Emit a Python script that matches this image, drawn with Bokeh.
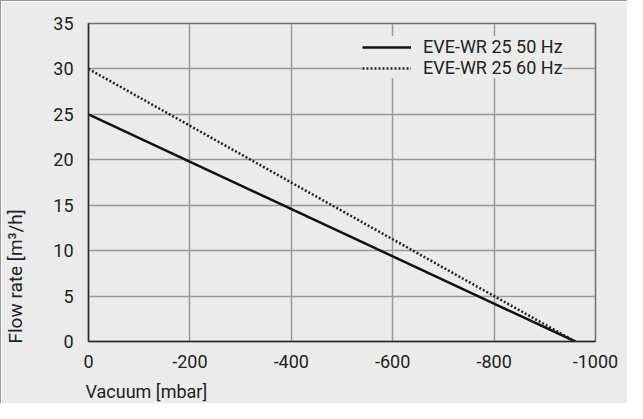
from bokeh.plotting import figure
from bokeh.models import Range1d, FixedTicker, Legend, LegendItem, Title, PrintfTickFormatter
from bokeh.embed import file_html
from bokeh.resources import INLINE

# Data
vacuum = [0, -960]
flow_50hz = [25, 0]
flow_60hz = [30, 0]
series_names = ["EVE-WR 25 50 Hz", "EVE-WR 25 60 Hz"]
x_ticks = [0, -200, -400, -600, -800, -1000]
y_ticks = [0, 5, 10, 15, 20, 25, 30, 35]
x_title = "Vacuum [mbar]"
y_title = "Flow rate [m³/h]"

FONT = "Roboto"
BG = "#ebebeb"
TXT = "#222222"

p = figure(width=627, height=403, output_backend="svg", toolbar_location=None,
           x_range=Range1d(0, -1000), y_range=Range1d(0, 35),
           min_border_left=87, min_border_right=33, min_border_top=22, min_border_bottom=63)
p.title = None
p.background_fill_color = BG
p.border_fill_color = BG
p.outline_line_color = "#707070"
p.outline_line_width = 1.5
p.styles = {"border-top": "1px solid #9a9a9a", "border-left": "1px solid #9a9a9a"}

for ax in (p.xaxis[0], p.yaxis[0]):
    ax.axis_line_color = "#2a2a2a"
    ax.axis_line_width = 1.5
    ax.major_tick_in = 0
    ax.major_tick_out = 0
    ax.minor_tick_line_color = None
    ax.major_label_text_font = FONT
    ax.major_label_text_font_size = "18px"
    ax.major_label_text_color = TXT
    ax.formatter = PrintfTickFormatter(format="%d")

p.xaxis[0].ticker = FixedTicker(ticks=x_ticks)
p.yaxis[0].ticker = FixedTicker(ticks=y_ticks)
p.xaxis[0].major_label_standoff = 13
p.yaxis[0].major_label_standoff = 15

p.xgrid[0].ticker = FixedTicker(ticks=x_ticks)
p.ygrid[0].ticker = FixedTicker(ticks=y_ticks)
for g in (p.xgrid[0], p.ygrid[0]):
    g.grid_line_color = "#999999"
    g.grid_line_width = 1.5

r50 = p.line(vacuum, flow_50hz, line_color="#111111", line_width=2.5)
r60 = p.line(vacuum, flow_60hz, line_color="#222222", line_width=2.5, line_dash="2 2")

legend = Legend(items=[LegendItem(label=series_names[0], renderers=[r50]),
                       LegendItem(label=series_names[1], renderers=[r60])],
                location=(274, 263), orientation="vertical",
                background_fill_color=BG, background_fill_alpha=1.0,
                border_line_color=None, glyph_width=49, glyph_height=16,
                label_standoff=12, label_height=16, spacing=-5, padding=5, margin=0,
                label_text_font=FONT, label_text_font_size="18px", label_text_color=TXT)
p.add_layout(legend)


def spacer(standoff):
    # blank title used only to push the axis titles outward
    return Title(text="\u00a0", standoff=standoff, text_color=BG,
                 text_font=FONT, text_font_size="18px", text_font_style="normal")


p.add_layout(spacer(-13), "below")
p.add_layout(Title(text=x_title, align="left", offset=-3, standoff=-1, vertical_align="middle",
                   text_font=FONT, text_font_size="18px", text_font_style="normal",
                   text_color=TXT), "below")
p.add_layout(spacer(0), "left")
p.add_layout(Title(text=y_title, align="left", offset=-2, standoff=0, vertical_align="middle",
                   text_font=FONT, text_font_size="19px", text_font_style="normal",
                   text_color=TXT), "left")

open("out.html", "w").write(file_html(p, INLINE))
